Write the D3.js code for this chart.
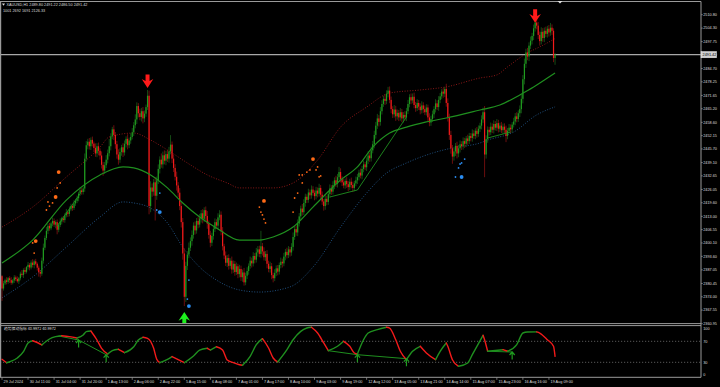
<!DOCTYPE html>
<html>
<head>
<meta charset="utf-8">
<script src="https://cdn.jsdelivr.net/npm/d3@7/dist/d3.min.js"></script>
<style>
  html, body { margin: 0; padding: 0; background: #000; }
  svg { display: block; }
</style>
</head>
<body>
<svg id="chart"></svg>
<script>

// ---- data ----

let symbolHeader = "XAUUSD,H1  2489.80 2491.22 2486.50 2491.42";
let symbolSub = "1001 2692 1691 2126.33";
let oscTitle = "趋势摆动指标 40.9972 40.9972";

let firstOpen = 2384.0;
let bidPrice = 2491.42;

// closes, one per H1 bar (open = previous close)
let closes = [
  2378.0,
  2380.5, 2382.0, 2381.2, 2383.0, 2382.1, 2380.8, 2381.9, 2383.4, 2382.6, 2381.5,
  2383.0, 2385.2, 2384.6, 2387.0, 2386.1, 2388.4, 2389.5, 2388.2, 2390.6, 2389.4, 2391.2, 2390.0, 2388.1, 2386.0, 2385.2,
  2391.5, 2397.8, 2402.5, 2406.0,
  2408.4, 2407.2, 2409.6, 2410.8, 2409.0, 2410.2, 2406.5,
  2408.8, 2410.5, 2412.0, 2411.2, 2413.5, 2415.0, 2414.2, 2416.4, 2418.0, 2417.1, 2419.3, 2420.5, 2421.8,
  2424.0, 2425.6, 2424.8, 2426.5,
  2441.0, 2447.5,
  2449.2, 2447.0, 2450.1, 2448.3, 2446.2,
  2443.5, 2447.0, 2444.8, 2442.5,
  2438.0, 2435.2, 2437.8, 2440.5, 2443.6,
  2447.0, 2451.8, 2455.2, 2452.5, 2448.0,
  2443.0, 2440.5, 2444.2,
  2446.5, 2444.0, 2448.2, 2450.6, 2447.5, 2449.8, 2451.5,
  2453.8, 2457.2, 2460.0, 2466.5,
  2463.0, 2461.2, 2464.0, 2460.5, 2462.8,
  2466.0, 2471.5,
  2418.0,
  2427.0, 2425.0, 2429.5,
  2423.0, 2430.5,
  2436.0, 2440.5, 2438.2, 2442.6,
  2440.0, 2443.2, 2441.0, 2444.5, 2447.8,
  2441.0, 2436.5, 2432.2, 2428.0,
  2424.5, 2418.0, 2410.2, 2395.0, 2374.0,
  2389.0, 2394.5, 2397.8, 2401.0,
  2404.0, 2408.5, 2406.2, 2410.8, 2409.0, 2412.0,
  2414.5, 2411.8, 2416.0, 2413.2, 2409.5,
  2404.0, 2400.2, 2403.5, 2406.8,
  2410.2, 2408.5, 2412.5, 2413.8,
  2406.0, 2398.5, 2394.0, 2390.5, 2392.8,
  2389.0, 2391.5, 2387.2, 2390.0, 2386.0, 2388.8, 2385.0, 2387.5,
  2383.5, 2385.8, 2381.0, 2384.2, 2386.5,
  2389.0, 2391.5, 2390.2, 2393.8, 2392.0, 2395.5, 2397.0, 2394.8, 2398.5,
  2396.0, 2393.2, 2394.8, 2390.0, 2387.5, 2388.8, 2384.5, 2383.0,
  2385.6, 2387.8, 2386.2, 2389.4, 2391.0, 2390.2,
  2393.5, 2395.8, 2394.2, 2397.0, 2395.5, 2398.2,
  2403.0, 2406.8, 2405.2, 2409.5,
  2413.0, 2416.8, 2415.0, 2419.5,
  2422.5, 2421.0, 2424.6, 2423.2, 2426.0, 2424.4, 2422.8, 2425.5, 2424.0, 2426.8, 2423.5,
  2420.2, 2418.0, 2421.5, 2420.0,
  2423.8, 2426.5, 2425.0, 2428.2, 2430.5, 2428.8, 2432.0, 2434.5, 2431.0,
  2429.5, 2428.0, 2430.2, 2428.6, 2427.2, 2429.8, 2428.2, 2426.8, 2429.0, 2430.5, 2432.0,
  2434.2, 2432.8, 2436.0, 2438.2, 2436.8, 2440.0,
  2442.5, 2441.2, 2445.0, 2448.0,
  2452.5, 2457.0, 2460.5, 2458.8, 2464.0,
  2467.5, 2470.0, 2469.0, 2472.5, 2474.0,
  2469.5, 2465.0, 2462.5, 2464.8, 2461.5, 2463.2,
  2461.0, 2463.5, 2460.5, 2462.2, 2461.0, 2464.0,
  2467.5, 2470.8, 2469.2, 2471.0,
  2467.0, 2465.5, 2468.0, 2466.2, 2464.5, 2466.8, 2465.0, 2463.5, 2465.8,
  2461.0, 2458.5, 2460.2, 2462.5,
  2465.0, 2467.8, 2466.0, 2469.5, 2471.2,
  2473.5, 2472.5, 2474.8,
  2468.0, 2461.0, 2452.5, 2446.0, 2442.0,
  2444.5, 2447.2, 2443.5, 2446.0, 2448.0,
  2447.0, 2449.5, 2448.2, 2450.8, 2449.5, 2452.0, 2451.0, 2453.2, 2452.0, 2454.5, 2453.0, 2455.5, 2457.0,
  2460.0, 2463.5, 2443.0,
  2450.5, 2455.0, 2453.8, 2456.5, 2455.0, 2457.8, 2456.0, 2458.2, 2455.5, 2457.0, 2454.8, 2456.5, 2455.0, 2452.0, 2454.5, 2456.0, 2455.2, 2457.5, 2459.0,
  2461.5, 2460.2, 2463.0, 2465.0,
  2470.0, 2479.5, 2487.0,
  2492.5, 2490.5, 2495.8, 2498.2, 2500.5,
  2504.2, 2507.0, 2505.5,
  2501.0, 2498.0, 2502.5, 2499.5, 2503.0,
  2501.5, 2504.0, 2502.2, 2504.5, 2503.0,
  2489.8,
  2491.42
];

// upper / lower shadow length of each bar, in dollars
let upWick = [
  0.5,1.2,0.8,1.5,0.6,1.0,1.4,0.7,1.1,0.9,1.3,0.6,1.0,1.8,0.8,1.2,0.5,1.4,0.9,1.1,
  1.6,0.8,1.2,0.7,1.0,0.9,1.5,2.0,1.2,1.8,1.0,1.4,0.8,1.6,1.2,0.9,1.3,1.0,1.5,0.8,
  1.2,1.0,1.6,0.9,1.4,1.1,0.8,1.5,1.0,1.3,0.9,1.6,1.2,1.0,2.5,2.0,1.4,1.8,1.2,1.6,
  1.0,2.2,1.5,1.8,1.2,2.0,1.4,1.6,2.2,1.8,3.5,1.5,1.2,2.0,1.4,1.6,2.5,1.8,1.2,2.0,
  1.6,1.2,2.2,1.4,1.8,2.0,1.5,2.5,1.8,1.4,2.2,1.6,2.0,1.5,1.2,2.8,2.5,3.0,2.0,1.6,
  2.5,1.8,2.2,1.6,3.0,1.8,2.4,1.6,2.0,2.2,4.6,1.5,2.0,1.8,2.5,1.6,2.2,1.8,2.0,2.5,
  2.0,1.6,2.5,1.8,2.2,1.6,2.0,1.4,1.8,2.2,1.6,2.0,1.4,1.8,2.4,1.5,2.0,1.6,1.2,1.8,
  1.4,2.0,2.2,1.6,1.8,1.2,2.0,1.5,1.8,1.2,2.0,1.6,1.4,1.8,1.2,2.0,1.6,1.4,2.2,1.5,
  1.8,1.2,2.0,1.5,1.8,1.4,2.2,1.6,1.8,7.5,1.6,2.0,1.4,1.8,1.5,2.2,1.6,1.2,1.8,1.4,
  1.6,1.2,2.0,1.5,1.8,1.4,2.0,1.6,1.2,1.8,2.2,1.5,1.8,2.0,1.6,1.4,2.2,1.8,1.5,1.2,
  1.8,1.4,2.0,1.6,1.2,1.8,1.5,2.0,1.4,1.6,1.2,1.8,1.5,1.4,2.0,1.6,1.8,1.4,2.2,1.6,
  2.5,1.8,1.4,1.6,1.2,1.8,1.5,1.4,2.0,1.6,1.2,1.8,1.6,1.4,2.0,1.5,1.8,1.2,1.6,2.0,
  1.4,1.8,1.6,2.0,1.8,2.2,1.6,2.0,1.8,1.5,2.2,1.6,1.8,2.0,1.6,1.4,2.2,1.8,1.6,1.4,
  2.0,1.6,1.4,1.8,1.6,2.0,1.4,1.8,1.6,2.0,1.5,1.8,1.4,1.6,2.0,1.5,1.8,1.6,1.4,2.0,
  1.6,1.8,1.4,2.0,1.5,1.8,1.6,1.2,1.8,1.0,2.5,2.2,1.8,2.0,1.6,1.8,1.4,2.0,1.6,1.8,
  1.4,1.8,1.6,1.2,1.8,1.5,1.4,2.0,1.6,1.2,1.8,1.6,1.4,2.0,2.2,3.0,1.8,1.6,1.4,2.0,
  1.6,1.8,1.4,2.0,1.6,1.4,1.8,1.5,1.6,2.0,1.4,1.8,1.6,1.2,1.8,1.6,2.0,1.4,1.8,2.2,
  2.0,2.5,1.8,2.2,1.6,2.0,1.5,1.8,1.2,2.0,1.8,1.6,2.2,1.8,1.6,2.0,1.4,1.8,2.3,1.6,
  1.2,0.8
];
let downWick = [
  6.0,1.0,0.8,1.2,0.9,1.4,1.0,0.8,1.2,1.0,0.7,1.3,1.0,0.9,1.5,1.1,0.8,1.2,1.4,0.9,
  1.2,1.6,0.8,1.4,2.2,1.8,1.0,1.4,1.2,1.0,1.6,1.2,0.9,1.4,1.1,1.8,2.2,1.2,1.0,1.4,
  1.1,1.3,1.0,1.5,1.2,0.9,1.4,1.0,1.2,1.1,1.5,1.0,1.3,1.2,1.6,1.4,2.0,1.6,1.8,1.4,
  2.0,1.6,1.8,2.2,2.0,1.8,2.5,1.6,1.4,1.8,1.5,2.0,1.4,2.5,2.2,2.0,2.4,1.5,1.8,2.2,
  1.5,1.8,2.0,1.4,1.6,1.2,1.8,1.5,2.2,2.0,1.6,2.2,2.4,1.8,1.5,1.4,4.0,3.0,2.5,2.0,
  12.0,2.0,1.8,2.2,1.6,2.0,1.8,2.2,1.6,2.0,1.4,2.2,2.0,1.8,2.5,2.2,2.0,2.6,3.0,4.5,
  2.5,2.0,1.8,1.6,2.2,1.8,2.0,1.6,1.8,1.4,2.0,2.2,1.6,2.0,2.5,1.8,2.2,1.6,1.8,1.4,
  1.6,1.8,1.4,2.2,2.0,1.8,1.6,2.0,1.8,1.4,2.0,1.6,1.8,1.4,2.0,1.6,1.8,2.2,1.6,1.4,
  1.6,1.8,1.4,2.0,1.5,1.8,1.4,2.0,1.6,1.8,2.0,1.6,1.8,2.2,1.6,1.8,2.0,2.0,1.4,1.6,
  1.8,1.4,1.6,2.0,1.4,1.8,1.6,1.4,2.0,1.6,1.8,1.4,1.6,1.8,1.4,2.0,1.6,1.4,1.8,1.6,
  1.4,1.8,1.6,1.4,2.0,1.6,1.8,1.4,2.0,1.6,2.2,1.8,1.6,1.4,1.8,1.6,1.4,2.0,1.6,1.8,
  1.4,1.6,1.8,1.4,1.6,1.8,2.0,1.4,1.6,2.0,1.6,1.4,1.8,1.6,1.4,1.8,1.6,1.4,1.8,1.6,
  1.8,1.6,1.4,2.0,1.8,1.6,2.2,1.8,1.6,1.4,2.0,1.6,1.8,1.6,2.0,1.8,1.6,2.2,1.6,1.8,
  1.6,1.8,2.0,1.6,1.8,1.4,1.6,1.8,1.4,1.6,1.8,1.4,1.6,2.0,1.6,1.8,1.4,1.6,2.2,1.8,
  1.6,1.4,1.8,1.6,1.4,1.8,1.6,1.4,2.0,1.6,1.8,2.0,2.4,2.6,3.5,2.0,2.2,2.4,1.8,2.0,
  1.8,1.6,2.0,1.6,1.8,1.4,1.6,1.8,1.4,1.6,1.8,1.4,1.6,1.8,1.6,11.0,2.0,1.8,1.6,1.4,
  1.6,1.8,1.4,1.6,1.8,1.6,1.4,1.8,1.6,3.0,1.6,1.4,1.8,1.6,1.4,1.8,1.6,1.4,1.8,2.0,
  2.2,2.5,2.0,1.8,2.2,1.6,1.8,2.0,1.6,1.8,2.0,2.2,1.6,1.8,2.0,1.6,1.8,2.0,1.6,2.0,
  2.0,3.3
];

// moving average + envelope, [bar, price]
let maLine = [[0,2390.4],[20,2401.5],[42,2420.9],[64,2433.1],[79,2437.0],[86,2436.5],[97,2433.1],[108,2426.8],[118,2419.5],[129,2412.7],[140,2407.4],[155,2401.5],[168,2401.5],[177,2403.0],[190,2407.8],[203,2417.5],[221,2430.6],[232,2437.0],[242,2446.6],[253,2453.4],[264,2456.3],[277,2458.8],[290,2460.7],[312,2464.6],[325,2467.0],[338,2471.9],[347,2475.7],[356,2480.1],[361,2482.5]];
let upperBand = [[0,2407.8],[20,2417.5],[42,2432.1],[64,2446.6],[70,2451.5],[86,2453.4],[97,2450.0],[108,2445.2],[121,2438.9],[134,2433.1],[147,2429.2],[155,2426.8],[177,2426.8],[190,2429.2],[206,2440.3],[221,2456.3],[238,2466.0],[253,2472.8],[273,2474.3],[290,2475.8],[312,2480.1],[323,2481.6],[330,2485.5],[343,2492.3],[351,2495.2],[361,2499.2]];
let lowerBand = [[0,2373.5],[20,2383.6],[42,2398.1],[64,2412.7],[79,2420.0],[86,2419.5],[97,2417.0],[108,2409.8],[118,2398.1],[129,2388.4],[140,2382.1],[155,2377.3],[168,2376.3],[188,2378.8],[203,2388.4],[221,2407.8],[238,2424.3],[251,2434.0],[264,2438.9],[281,2443.7],[294,2446.2],[312,2448.6],[317,2450.0],[334,2453.9],[349,2462.2],[361,2466.1]];

// thin zigzag legs
let zigzagLegs = [
  [[36,2408.3],[51,2424.0]],
  [[214,2422.4],[232,2425.8],[264,2461.2]],
  [[317,2451.0],[332,2453.9]]
];

// signal dots [bar, price]
let orangeBig = [[37,2434.5],[35,2422.4],[22,2401.0],[171,2420.5],[203,2440.8]];
let orangeSmall = [[38,2429.2],[36,2426.8],[30,2420.0],[33,2419.5],[31,2418.0],[29,2416.1],[20,2400.1],[21,2395.2],
  [168,2417.5],[169,2415.1],[170,2413.7],[171,2411.7],[172,2409.8],
  [206,2437.0],[205,2435.5],[201,2435.5],[199,2434.5],[196,2433.1],[194,2433.1],[207,2432.2],[208,2432.6],[196,2429.2],[193,2424.3],[191,2421.9],[190,2415.1]];
let blueBig = [[103,2415.1],[122,2369.5],[300,2432.1]];
let blueSmall = [[103,2424.3],[101,2416.1],[121,2372.9],[122,2382.1],[302,2440.8],[300,2438.9],[299,2438.4],[298,2436.5],[296,2432.1]];

// arrow tips [bar, price]
let sellArrows = [[95,2475.3],[348,2506.9]];
let buyArrows = [[119,2366.6]];

// oscillator, [bar, value]
let oscPoints = [[0,35.7],[3,29.2],[5,31.1],[10,38.2],[14,50.2],[17,66.8],[20,71.1],[23,67.7],[26,63.0],[31,74.4],[35,78.8],[39,80.7],[44,78.8],[49,76.3],[53,82.0],[55,88.3],[58,89.6],[62,72.5],[65,56.7],[69,45.8],[72,52.1],[76,54.8],[80,48.3],[86,59.7],[89,72.5],[92,77.6],[95,75.7],[99,56.7],[101,35.7],[103,29.2],[108,35.7],[111,41.0],[119,29.2],[125,42.0],[129,53.4],[134,56.7],[136,53.4],[140,59.7],[144,53.4],[147,34.4],[151,29.2],[155,25.4],[157,24.3],[162,41.4],[166,63.5],[170,75.0],[174,57.2],[177,38.2],[180,30.6],[186,54.0],[190,73.0],[195,89.0],[199,95.3],[202,96.7],[206,85.8],[210,66.8],[213,52.1],[219,60.5],[223,70.0],[227,60.5],[230,47.7],[232,45.8],[236,73.0],[239,85.8],[245,92.1],[251,96.7],[253,95.3],[257,73.0],[260,51.0],[264,35.0],[268,51.0],[273,60.5],[277,47.7],[283,35.0],[286,51.0],[290,66.8],[291,60.5],[294,35.0],[298,22.4],[304,28.7],[307,44.5],[314,81.4],[315,73.0],[317,51.0],[327,54.0],[330,51.0],[336,63.5],[340,85.8],[343,87.7],[349,87.9],[351,85.8],[356,73.0],[360,60.5],[361,41.4]];
let oscDivLines = [
  [[37,80.1],[50,72.5],[68,44.5]],
  [[213,52.1],[232,44.5],[264,36.9]],
  [[317,51.0],[333,49.6]]
];
let oscArrows = [[50,72.5],[68,44.5],[232,44.5],[264,36.9],[333,49.6]];
let oscLevels = [70, 30];
let oscAxisValues = [100, 70, 30, 0];

let priceTicks = [2510.80,2504.30,2497.75,2491.20,2484.70,2478.25,2471.65,2465.20,2458.60,2452.15,2445.70,2439.10,2432.65,2426.05,2419.60,2413.00,2406.55,2400.10,2393.60,2387.05,2380.45,2374.00,2367.55,2360.95];

let timeBars = [0,17,34,51,68,85,102,119,136,153,170,187,204,221,238,255,272,289,306,323,340,357];
let timeLabels = ["29 Jul 2024","30 Jul 11:00","31 Jul 04:00","31 Jul 20:00","1 Aug 13:00","2 Aug 06:00","2 Aug 22:00","5 Aug 15:00","6 Aug 08:00","7 Aug 01:00","7 Aug 17:00","8 Aug 10:00","9 Aug 03:00","9 Aug 19:00","12 Aug 12:00","13 Aug 05:00","13 Aug 21:00","14 Aug 14:00","15 Aug 07:00","15 Aug 23:00","16 Aug 16:00","19 Aug 09:00"];

// ---- layout ----

let width = 720, height = 387;
let plotRight = 701;
let mainTop = 2, mainBottom = 323.3;
let oscTop = 325.6, oscBottom = 377.3;
let barStep = 1.532;

let font = "'Liberation Sans', Arial, sans-serif";
let fontSize = 3.8;
let textColor = "#dcdcdc";
let frameColor = "#9a9a9a";

let bullBody = "#1f9c1f", bullWick = "#1d6a1d";
let bearBody = "#f21a1a", bearWick = "#981414";

let xScale = d3.scaleLinear().domain([0, closes.length - 1]).range([2, 2 + (closes.length - 1) * barStep]);
let yScale = d3.scaleLinear().domain([2360.95, 2510.80]).range([323.7, 14.7]);
let oscScale = d3.scaleLinear().domain([30, 70]).range([362.3, 341.3]);

let svg = d3.select("#chart")
  .attr("width", width)
  .attr("height", height)
  .attr("viewBox", [0, 0, width, height]);

svg.append("rect")
  .attr("width", width)
  .attr("height", height)
  .attr("fill", "#000");

let defs = svg.append("defs");
defs.append("clipPath").attr("id", "mainClip")
  .append("rect")
  .attr("x", 1).attr("y", mainTop)
  .attr("width", plotRight - 1).attr("height", mainBottom - mainTop);
defs.append("clipPath").attr("id", "oscClip")
  .append("rect")
  .attr("x", 1).attr("y", oscTop)
  .attr("width", plotRight - 1).attr("height", oscBottom - oscTop);

let main = svg.append("g").attr("clip-path", "url(#mainClip)");
let osc = svg.append("g").attr("clip-path", "url(#oscClip)");

let priceLine = d3.line()
  .x(d => xScale(d[0]))
  .y(d => yScale(d[1]))
  .curve(d3.curveMonotoneX);

// envelope bands, dotted
main.append("path")
  .attr("d", priceLine(upperBand))
  .attr("fill", "none")
  .attr("stroke", "#8a1717")
  .attr("stroke-width", 1)
  .attr("stroke-dasharray", "1,1.6");

main.append("path")
  .attr("d", priceLine(lowerBand))
  .attr("fill", "none")
  .attr("stroke", "#1f4f7e")
  .attr("stroke-width", 1)
  .attr("stroke-dasharray", "1,1.6");

// bid line
main.append("line")
  .attr("x1", 0).attr("x2", plotRight)
  .attr("y1", yScale(bidPrice)).attr("y2", yScale(bidPrice))
  .attr("stroke", "#a8a8a8")
  .attr("stroke-width", 1.3);

// candles
let bars = closes.map(function (c, i) {
  let o = i === 0 ? firstOpen : closes[i - 1];
  return {
    i: i, o: o, c: c,
    h: Math.max(o, c) + upWick[i],
    l: Math.min(o, c) - downWick[i]
  };
});

main.append("g").selectAll("line")
  .data(bars)
  .join("line")
  .attr("x1", d => xScale(d.i)).attr("x2", d => xScale(d.i))
  .attr("y1", d => yScale(d.h)).attr("y2", d => yScale(d.l))
  .attr("stroke", d => d.c >= d.o ? bullWick : bearWick)
  .attr("stroke-width", 0.7);

main.append("g").selectAll("rect")
  .data(bars)
  .join("rect")
  .attr("x", d => xScale(d.i) - 0.6)
  .attr("width", 1.2)
  .attr("y", d => yScale(Math.max(d.o, d.c)))
  .attr("height", d => Math.max(0.6, Math.abs(yScale(d.o) - yScale(d.c))))
  .attr("fill", d => d.c >= d.o ? bullBody : bearBody);

// moving average
main.append("path")
  .attr("d", priceLine(maLine))
  .attr("fill", "none")
  .attr("stroke", "#1f8f1f")
  .attr("stroke-width", 1.2);

// zigzag
let straight = d3.line().x(d => xScale(d[0])).y(d => yScale(d[1]));
main.append("g").selectAll("path")
  .data(zigzagLegs)
  .join("path")
  .attr("d", d => straight(d))
  .attr("fill", "none")
  .attr("stroke", "#1f8f1f")
  .attr("stroke-width", 0.9);

// dots
function addDots(list, color, r) {
  main.append("g").selectAll("circle")
    .data(list)
    .join("circle")
    .attr("cx", d => xScale(d[0]))
    .attr("cy", d => yScale(d[1]))
    .attr("r", r)
    .attr("fill", color);
}
addDots(orangeSmall, "#ff6a16", 0.9);
addDots(orangeBig, "#ff6a16", 1.9);
addDots(blueSmall, "#2a8cf0", 0.9);
addDots(blueBig, "#2a8cf0", 1.9);

// arrows, tip at (0,0) pointing down
let arrowShape = "M-2,-13.5 L2,-13.5 L2,-6.8 L5.8,-8.8 L0,0 L-5.8,-8.8 L-2,-6.8 Z";

main.append("g").selectAll("path")
  .data(sellArrows)
  .join("path")
  .attr("d", arrowShape)
  .attr("transform", d => `translate(${xScale(d[0])},${yScale(d[1])})`)
  .attr("fill", "#ff1a1a");

main.append("g").selectAll("path")
  .data(buyArrows)
  .join("path")
  .attr("d", arrowShape)
  .attr("transform", d => `translate(${xScale(d[0])},${yScale(d[1])}) scale(1,-1)`)
  .attr("fill", "#1ef01e");

// ---- oscillator window ----

osc.append("g").selectAll("line")
  .data(oscLevels)
  .join("line")
  .attr("x1", 0).attr("x2", plotRight)
  .attr("y1", d => oscScale(d)).attr("y2", d => oscScale(d))
  .attr("stroke", "#6e6e6e")
  .attr("stroke-width", 0.8)
  .attr("stroke-dasharray", "1.2,1.8");

let oscLine = d3.line()
  .x(d => xScale(d[0]))
  .y(d => oscScale(d[1]));

osc.append("g").selectAll("path")
  .data(oscDivLines)
  .join("path")
  .attr("d", d => oscLine(d))
  .attr("fill", "none")
  .attr("stroke", "#1f8f1f")
  .attr("stroke-width", 1);

// split the oscillator into rising / falling runs
let runs = [];
let cur = [oscPoints[0]];
let dir = null;
for (let k = 1; k < oscPoints.length; k++) {
  let d = oscPoints[k][1] >= oscPoints[k - 1][1] ? "up" : "down";
  if (dir === null || d === dir) {
    cur.push(oscPoints[k]);
    dir = d;
  } else {
    runs.push({ dir: dir, pts: cur });
    cur = [oscPoints[k - 1], oscPoints[k]];
    dir = d;
  }
}
runs.push({ dir: dir, pts: cur });

let oscCurve = d3.line()
  .x(d => xScale(d[0]))
  .y(d => oscScale(d[1]))
  .curve(d3.curveMonotoneX);

osc.append("g").selectAll("path")
  .data(runs)
  .join("path")
  .attr("d", d => oscCurve(d.pts))
  .attr("fill", "none")
  .attr("stroke", d => d.dir === "up" ? "#1f8f1f" : "#f21a1a")
  .attr("stroke-width", 1.4)
  .attr("stroke-linecap", "round");

osc.append("g").selectAll("path")
  .data(oscArrows)
  .join("path")
  .attr("d", "M0,0 L0,7.5 M-2.6,3 L0,0 L2.6,3")
  .attr("transform", d => `translate(${xScale(d[0])},${oscScale(d[1])})`)
  .attr("fill", "none")
  .attr("stroke", "#1f9c1f")
  .attr("stroke-width", 1.2);

// ---- frame ----

let frame = svg.append("g")
  .attr("stroke", frameColor)
  .attr("fill", "none");

frame.append("line").attr("x1", 0).attr("x2", plotRight).attr("y1", 1.5).attr("y2", 1.5).attr("stroke-width", 1);
frame.append("line").attr("x1", 0.6).attr("x2", 0.6).attr("y1", 1.5).attr("y2", oscBottom).attr("stroke-width", 1.2);
frame.append("line").attr("x1", 0).attr("x2", plotRight).attr("y1", mainBottom + 0.3).attr("y2", mainBottom + 0.3).attr("stroke-width", 1);
frame.append("line").attr("x1", 0).attr("x2", plotRight).attr("y1", oscTop).attr("y2", oscTop).attr("stroke-width", 1);
frame.append("line").attr("x1", 0).attr("x2", plotRight).attr("y1", oscBottom).attr("y2", oscBottom).attr("stroke-width", 1);
frame.append("line").attr("x1", plotRight).attr("x2", plotRight).attr("y1", 1.5).attr("y2", oscBottom).attr("stroke-width", 1);

// chart shift marker
svg.append("path")
  .attr("d", "M557.5,1 L562.5,1 L560,3.6 Z")
  .attr("fill", "#e0e0e0");

// ---- price axis ----

let fmt = d3.format(".2f");

let yAxis = svg.append("g");
yAxis.selectAll("line")
  .data(priceTicks)
  .join("line")
  .attr("x1", plotRight).attr("x2", plotRight + 1.8)
  .attr("y1", d => yScale(d)).attr("y2", d => yScale(d))
  .attr("stroke", frameColor)
  .attr("stroke-width", 0.7);
yAxis.selectAll("text")
  .data(priceTicks)
  .join("text")
  .attr("x", plotRight + 2.2)
  .attr("y", d => yScale(d))
  .attr("dy", "0.35em")
  .attr("fill", textColor)
  .style("font-family", font)
  .style("font-size", fontSize + "px")
  .text(d => fmt(d));

// bid label
svg.append("rect")
  .attr("x", plotRight)
  .attr("y", yScale(bidPrice) - 3.1)
  .attr("width", 15.5)
  .attr("height", 6.2)
  .attr("fill", "#d0d0d0")
  .attr("stroke", "#f0f0f0")
  .attr("stroke-width", 0.5);
svg.append("text")
  .attr("x", plotRight + 1.6)
  .attr("y", yScale(bidPrice))
  .attr("dy", "0.35em")
  .attr("fill", "#000")
  .style("font-family", font)
  .style("font-size", fontSize + "px")
  .text(fmt(bidPrice));

// oscillator axis
svg.append("g").selectAll("text")
  .data(oscAxisValues)
  .join("text")
  .attr("x", plotRight + 2.2)
  .attr("y", d => Math.min(Math.max(oscScale(d), oscTop + 3), oscBottom - 2.8))
  .attr("dy", "0.35em")
  .attr("fill", textColor)
  .style("font-family", font)
  .style("font-size", fontSize + "px")
  .text(d => d);

// ---- time axis ----

let xAxis = svg.append("g");
xAxis.selectAll("line")
  .data(timeBars)
  .join("line")
  .attr("x1", d => xScale(d)).attr("x2", d => xScale(d))
  .attr("y1", oscBottom).attr("y2", oscBottom + 2.5)
  .attr("stroke", frameColor)
  .attr("stroke-width", 0.7);
xAxis.selectAll("text")
  .data(timeBars)
  .join("text")
  .attr("x", d => xScale(d) + 1.6)
  .attr("y", 381.5)
  .attr("dy", "0.35em")
  .attr("fill", textColor)
  .style("font-family", font)
  .style("font-size", fontSize + "px")
  .text((d, i) => timeLabels[i]);

// ---- titles ----

svg.append("path")
  .attr("d", "M2,3.6 L5,3.6 L3.5,5.8 Z")
  .attr("fill", textColor);
svg.append("text")
  .attr("x", 6.5).attr("y", 5)
  .attr("dy", "0.35em")
  .attr("fill", textColor)
  .style("font-family", font)
  .style("font-size", fontSize + "px")
  .text(symbolHeader);
svg.append("text")
  .attr("x", 3).attr("y", 10.3)
  .attr("dy", "0.35em")
  .attr("fill", textColor)
  .style("font-family", font)
  .style("font-size", fontSize + "px")
  .text(symbolSub);
svg.append("text")
  .attr("x", 4).attr("y", 329)
  .attr("dy", "0.35em")
  .attr("fill", textColor)
  .style("font-family", "'Noto Sans CJK SC', " + font)
  .style("font-size", fontSize + "px")
  .text(oscTitle);

console.log("bars drawn: " + bars.length);
</script>
</body>
</html>
